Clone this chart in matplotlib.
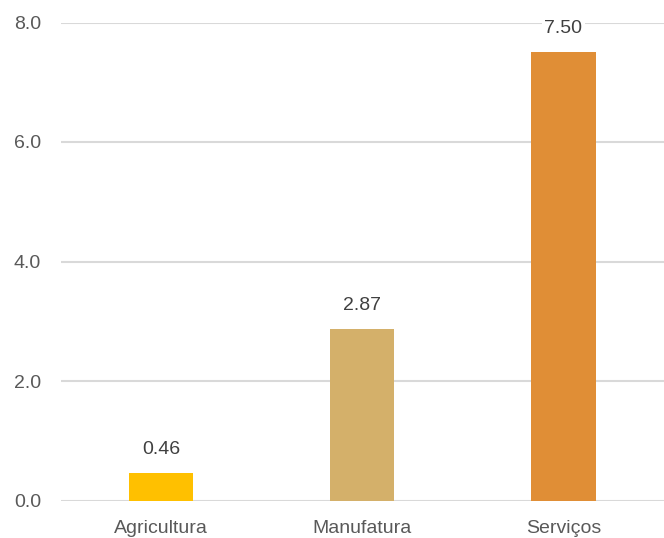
import matplotlib
matplotlib.use("Agg")
import matplotlib.pyplot as plt

categories = ["Agricultura", "Manufatura", "Serviços"]
values = [0.46, 2.87, 7.50]
colors = ["#FFC000", "#D4B06A", "#E08E36"]
yticks = [0.0, 2.0, 4.0, 6.0, 8.0]

plt.rcParams['font.family'] = ['Liberation Sans', 'DejaVu Sans']
W, H = 664, 538
fig = plt.figure(figsize=(W/100, H/100), dpi=100)
ax = fig.add_axes([60.5/W, (H-500.5)/H, (W-60.5)/W, (500.5-22.5)/H])

x = list(range(len(categories)))
ax.bar(x, values, width=0.32, color=colors, zorder=2)
ax.set_xlim(-0.5, 2.5)
ax.set_ylim(0, 8)
ax.set_yticks(yticks)
ax.set_yticklabels([f"{t:.1f}" for t in yticks], fontsize=14, color="#595959")
ax.set_xticks(x)
ax.set_xticklabels(categories, fontsize=14, color="#595959")
ax.tick_params(axis='both', length=0)
ax.tick_params(axis='y', pad=14)
ax.tick_params(axis='x', pad=14)
ax.grid(axis='y', color="#D9D9D9", linewidth=1.5, zorder=0)
for s in ax.spines.values():
    s.set_visible(False)
ax.set_axisbelow(True)

for xi, v in zip(x, values):
    ax.annotate(f"{v:.2f}", (xi, v), xytext=(0, 24), textcoords="offset pixels",
                ha="center", va="center", fontsize=14, color="#404040",
                bbox=dict(facecolor="white", edgecolor="none", pad=2), zorder=3)

fig.savefig("out.png", dpi=100)
